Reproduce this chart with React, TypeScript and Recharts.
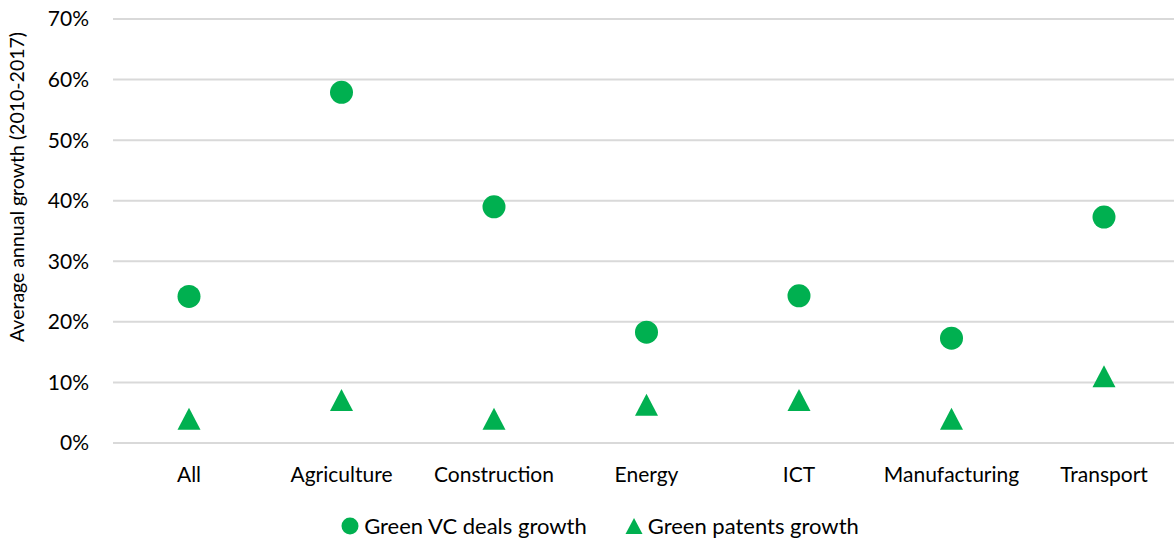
import { ComposedChart, Scatter, XAxis, YAxis, CartesianGrid, Legend, Label } from 'recharts';

// average annual growth 2010-2017, in percent
const sectors = ['All', 'Agriculture', 'Construction', 'Energy', 'ICT', 'Manufacturing', 'Transport'];
const vcDealsGrowth = [24.2, 57.9, 39.0, 18.3, 24.3, 17.3, 37.3];
const patentsGrowth = [4.0, 7.1, 4.0, 6.3, 7.1, 4.0, 11.0];
const yTicks = [0, 10, 20, 30, 40, 50, 60, 70];

const GREEN = '#00B050';
const FONT = 'Lato, "Open Sans", sans-serif';

const data = sectors.map((sector, i) => ({
  sector,
  vc: vcDealsGrowth[i],
  patents: patentsGrowth[i],
}));

const Dot = (props: any) => {
  const { cx, cy } = props;
  return <circle cx={cx} cy={cy} r={11.5} fill={GREEN} />;
};

const Triangle = (props: any) => {
  const { cx, cy } = props;
  const w = 23;
  const h = 22;
  return (
    <polygon
      points={`${cx},${cy - h / 2} ${cx + w / 2},${cy + h / 2} ${cx - w / 2},${cy + h / 2}`}
      fill={GREEN}
    />
  );
};

const LegendContent = () => (
  <div style={{ display: 'flex', justifyContent: 'center', alignItems: 'center', paddingTop: 4, paddingLeft: 20, fontFamily: FONT, fontSize: 22, color: '#000' }}>
    <svg width={18} height={18} style={{ marginRight: 5 }}>
      <circle cx={9} cy={9} r={8.5} fill={GREEN} />
    </svg>
    <span style={{ marginRight: 38 }}>Green VC deals growth</span>
    <svg width={18} height={18} style={{ marginRight: 5 }}>
      <polygon points="9,1 17.5,17 0.5,17" fill={GREEN} />
    </svg>
    <span>Green patents growth</span>
  </div>
);

export default function App() {
  return (
    <div style={{ position: 'absolute', left: 0, top: 0, width: 1174, height: 541, overflow: 'hidden', background: '#fff' }}>
      <ComposedChart
        width={1180}
        height={541}
        data={data}
        margin={{ top: 19, right: 0, bottom: 0, left: 0 }}
      >
        <CartesianGrid vertical={false} stroke="#d9d9d9" strokeWidth={2} />
        <XAxis
          dataKey="sector"
          type="category"
          axisLine={false}
          tickLine={false}
          tick={{ fontFamily: FONT, fontSize: 21, fill: '#000' }}
          tickMargin={18}
          height={65}
          interval={0}
          padding={{ left: 76, right: 76 }}
        />
        <YAxis
          type="number"
          domain={[0, 70]}
          ticks={yTicks}
          tickFormatter={(v: number) => `${v}%`}
          axisLine={false}
          tickLine={false}
          tick={{ fontFamily: FONT, fontSize: 21, fill: '#000' }}
          tickMargin={18}
          width={113}
        >
          <Label
            value="Average annual growth (2010-2017)"
            angle={-90}
            position="insideLeft"
            style={{ fontFamily: FONT, fontSize: 19.5, fill: '#000', textAnchor: 'middle' }}
            dx={12}
            dy={-44}
          />
        </YAxis>
        <Legend verticalAlign="bottom" content={<LegendContent />} height={33} />
        <Scatter dataKey="vc" name="Green VC deals growth" fill={GREEN} shape={<Dot />} isAnimationActive={false} />
        <Scatter dataKey="patents" name="Green patents growth" fill={GREEN} shape={<Triangle />} isAnimationActive={false} />
      </ComposedChart>
    </div>
  );
}
